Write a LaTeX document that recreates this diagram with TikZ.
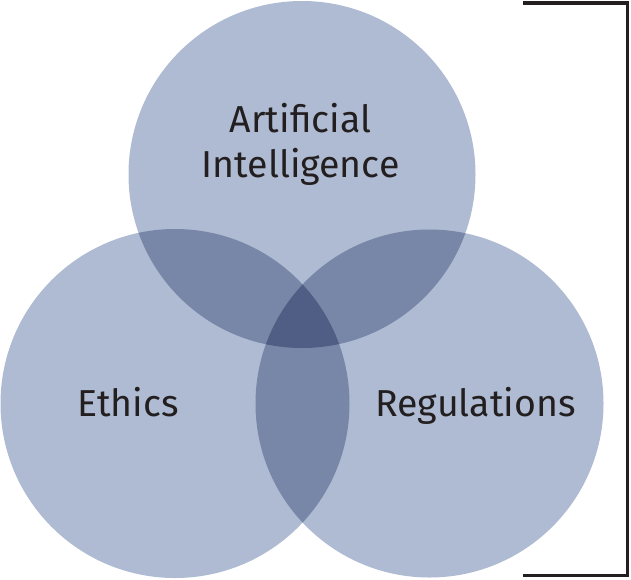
\documentclass[tikz,border=0pt]{standalone}
\usepackage{fontspec}
\setmainfont{Fira Sans}
\definecolor{one}{HTML}{AFBBD2}
\definecolor{two}{HTML}{7886A7}
\definecolor{three}{HTML}{505E85}
\definecolor{ink}{HTML}{231F20}
\begin{document}
\begin{tikzpicture}[x=1pt,y=-1pt,
  lbl/.style={anchor=base,inner sep=0pt,text=ink,font=\fontsize{37.5}{45}\selectfont}]
\useasboundingbox (0,0) rectangle (631,579);
\def\cA{(302,174.5) circle[radius=173.5]}
\def\cB{(175,403.5) circle[radius=174.5]}
\def\cC{(429.5,403.5) circle[radius=174]}
\fill[one] \cA; \fill[one] \cB; \fill[one] \cC;
\begin{scope}\clip \cA; \fill[two] \cB; \fill[two] \cC; \end{scope}
\begin{scope}\clip \cB; \fill[two] \cC; \end{scope}
\begin{scope}\clip \cA; \clip \cB; \fill[three] \cC; \end{scope}
\node[lbl] (ai1) at (300.5,132) {Artificial};
\node[lbl] (ai2) at (300.5,177) {Intelligence};
\node[lbl] (eth) at (128,416) {Ethics};
\node[lbl] (reg) at (475.5,416) {Regulations};
\draw[ink,line width=3.5pt,miter limit=10] (523,3) -- (627.5,3) -- (627.5,575.5) -- (523,575.5);
\end{tikzpicture}
\end{document}
